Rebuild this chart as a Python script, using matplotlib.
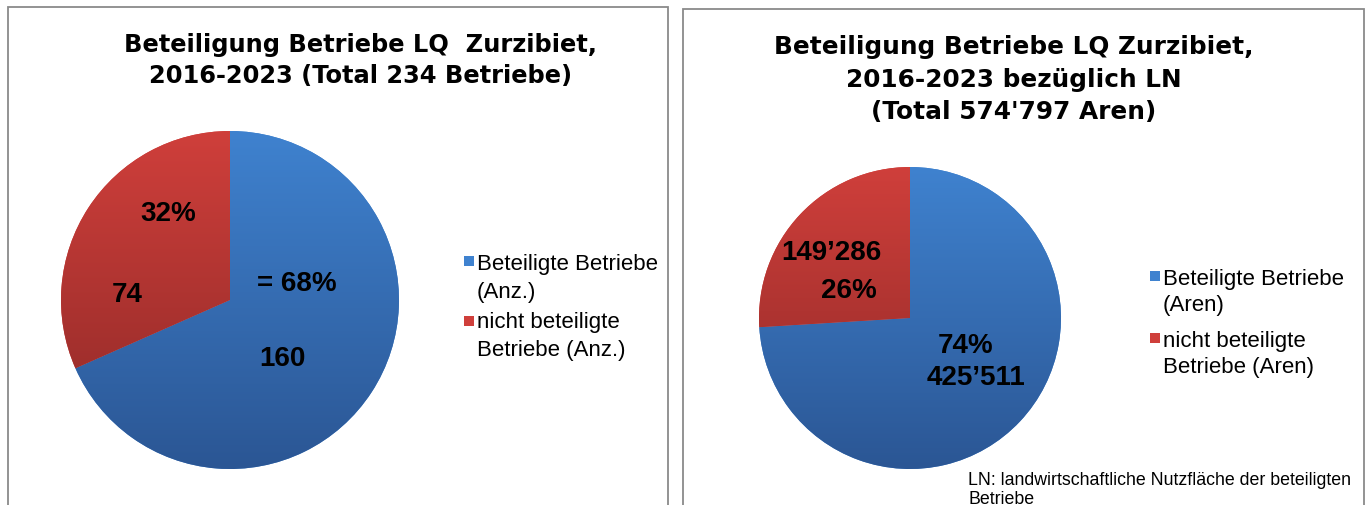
import matplotlib
matplotlib.use('Agg')
import matplotlib.pyplot as plt
from matplotlib.colors import LinearSegmentedColormap
from matplotlib.patches import Rectangle
import numpy as np

# ── Data ────────────────────────────────────────────────────
anz_values = [160, 74]
anz_labels = ['Beteiligte Betriebe\n(Anz.)', 'nicht beteiligte\nBetriebe (Anz.)']
anz_title = ['Beteiligung Betriebe LQ  Zurzibiet,', '2016-2023 (Total 234 Betriebe)']

ln_values = [425511, 149286]
ln_labels = ['Beteiligte Betriebe\n(Aren)', 'nicht beteiligte\nBetriebe (Aren)']
ln_title = ['Beteiligung Betriebe LQ Zurzibiet,', '2016-2023 bezüglich LN', "(Total 574'797 Aren)"]
ln_note = 'LN: landwirtschaftliche Nutzfläche der beteiligten\nBetriebe'

# ── Styles ──────────────────────────────────────────────────
W, H = 1370, 506
blue_grad = ('#3f82cf', '#2b5694')
red_grad = ('#cf3f3b', '#8c2826')
TITLE_FONT = ['DejaVu Sans']
TEXT_FONT = ['Liberation Sans', 'DejaVu Sans']

fig = plt.figure(figsize=(W / 100, H / 100), dpi=100)
fig.patch.set_facecolor('white')


def fx(x):
    return x / W


def fy(y):
    return 1 - y / H


def box(x0, y0, x1, y1):
    fig.patches.append(Rectangle((fx(x0), fy(y1)), fx(x1 - x0), (y1 - y0) / H,
                                 transform=fig.transFigure, fill=False,
                                 edgecolor='#8a8a8a', linewidth=1.3))


def gradient_pie(cx, cy, r, values):
    ax = fig.add_axes([fx(cx - r), fy(cy + r), 2 * r / W, 2 * r / H])
    wedges, _ = ax.pie(values, radius=1, startangle=90, counterclock=False,
                       colors=[blue_grad[0], red_grad[0]],
                       wedgeprops=dict(linewidth=0))
    grad = np.linspace(0, 1, 256)[:, None]
    for w, (c0, c1) in zip(wedges, [blue_grad, red_grad]):
        cmap = LinearSegmentedColormap.from_list('g', [c0, c1])
        im = ax.imshow(grad, cmap=cmap, extent=(-1, 1, -1, 1), origin='upper',
                       aspect='auto', zorder=2)
        im.set_clip_path(w)
    ax.set_xlim(-1, 1)
    ax.set_ylim(-1, 1)
    ax.set_aspect('equal')
    ax.axis('off')
    return ax


def label(x, y, s):
    fig.text(fx(x), fy(y), s, ha='center', va='center', fontsize=20,
             fontweight='bold', family=TEXT_FONT, color='black')


def legend(x, sq_ys, base_ys, labels):
    cols = [blue_grad[0], red_grad[0]]
    for i, lab in enumerate(labels):
        sq = 10
        fig.patches.append(Rectangle((fx(x - 13), fy(sq_ys[i] + sq / 2)), sq / W, sq / H,
                                     transform=fig.transFigure, facecolor=cols[i],
                                     edgecolor='none'))
        for j, line in enumerate(lab.split('\n')):
            fig.text(fx(x), fy(base_ys[2 * i + j]), line, ha='left', va='baseline',
                     fontsize=16, family=TEXT_FONT, color='black')


# ── Left chart ──────────────────────────────────────────────
box(8, 8, 668, 520)
for line, yb in zip(anz_title, [52, 83]):
    fig.text(fx(361), fy(yb), line, ha='center', va='baseline', fontsize=17.4,
             fontweight='bold', family=TITLE_FONT)
gradient_pie(230, 301, 169, anz_values)
tot = sum(anz_values)
label(168, 214, f'{round(anz_values[1] / tot * 100)}%')
label(127, 295, f'{anz_values[1]}')
label(297, 284, f'= {round(anz_values[0] / tot * 100)}%')
label(282, 359, f'{anz_values[0]}')
legend(477, [262, 322], [270, 298, 328, 356], anz_labels)

# ── Right chart ─────────────────────────────────────────────
box(683, 10, 1364, 520)
for line, yb in zip(ln_title, [54, 87, 119]):
    fig.text(fx(1014), fy(yb), line, ha='center', va='baseline', fontsize=17.8,
             fontweight='bold', family=TITLE_FONT)
gradient_pie(910, 319, 151, ln_values)
tot = sum(ln_values)


def swiss(v):
    return f'{v:,}'.replace(',', '\u2019')


label(831, 253, swiss(ln_values[1]))
label(849, 291, f'{round(ln_values[1] / tot * 100)}%')
label(966, 346, f'{round(ln_values[0] / tot * 100)}%')
label(976, 378, swiss(ln_values[0]))
legend(1163, [277, 339], [285, 311, 347, 373], ln_labels)

for j, line in enumerate(ln_note.split('\n')):
    fig.text(fx(968), fy(485 + 19 * j), line, ha='left', va='baseline',
             fontsize=12.8, family=TEXT_FONT)

fig.savefig('out.png', dpi=100)
